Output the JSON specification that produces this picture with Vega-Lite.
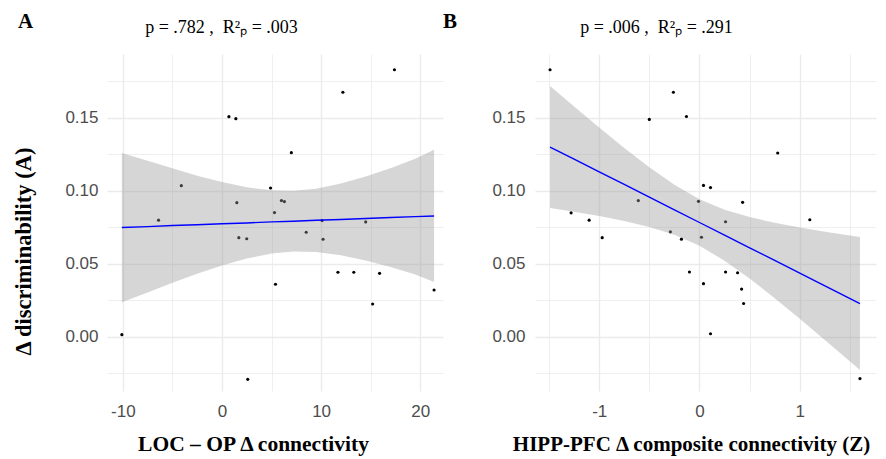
{
  "$schema": "https://vega.github.io/schema/vega-lite/v6.json",
  "background": "white",
  "padding": {"left": 12, "top": 11, "right": 5, "bottom": 5},
  "bounds": "flush",
  "spacing": 92,
  "datasets": {
    "left": [
      {"loc": 17.4, "dA": 0.183}, {"loc": 12.2, "dA": 0.1676}, {"loc": 0.7, "dA": 0.1509}, {"loc": 1.4, "dA": 0.1495},
      {"loc": 7.0, "dA": 0.1262}, {"loc": -4.1, "dA": 0.1036}, {"loc": 4.9, "dA": 0.102}, {"loc": 1.5, "dA": 0.092},
      {"loc": 6.0, "dA": 0.0934}, {"loc": 6.3, "dA": 0.0927}, {"loc": 5.3, "dA": 0.0852}, {"loc": -6.4, "dA": 0.080},
      {"loc": 10.1, "dA": 0.0797}, {"loc": 14.5, "dA": 0.0788}, {"loc": 8.5, "dA": 0.0717}, {"loc": 1.7, "dA": 0.068},
      {"loc": 2.5, "dA": 0.0673}, {"loc": 10.2, "dA": 0.0669}, {"loc": 5.4, "dA": 0.0361}, {"loc": 11.7, "dA": 0.0443},
      {"loc": 13.3, "dA": 0.0443}, {"loc": 15.9, "dA": 0.0436}, {"loc": 15.2, "dA": 0.0226}, {"loc": 21.4, "dA": 0.0322},
      {"loc": -10.1, "dA": 0.0016}, {"loc": 2.6, "dA": -0.029}
    ],
    "right": [
      {"hipp": -1.49, "dA": 0.183}, {"hipp": -0.26, "dA": 0.1676}, {"hipp": -0.5, "dA": 0.149}, {"hipp": -0.13, "dA": 0.151},
      {"hipp": 0.78, "dA": 0.126}, {"hipp": 0.04, "dA": 0.1038}, {"hipp": 0.11, "dA": 0.1023}, {"hipp": -0.01, "dA": 0.0929},
      {"hipp": 0.43, "dA": 0.0922}, {"hipp": -0.61, "dA": 0.0934}, {"hipp": -1.28, "dA": 0.085}, {"hipp": -1.1, "dA": 0.080},
      {"hipp": 0.26, "dA": 0.0789}, {"hipp": 1.1, "dA": 0.0803}, {"hipp": -0.29, "dA": 0.072}, {"hipp": -0.97, "dA": 0.068},
      {"hipp": -0.18, "dA": 0.067}, {"hipp": 0.02, "dA": 0.0683}, {"hipp": -0.1, "dA": 0.0445}, {"hipp": 0.26, "dA": 0.0445},
      {"hipp": 0.38, "dA": 0.044}, {"hipp": 0.04, "dA": 0.0365}, {"hipp": 0.42, "dA": 0.0328}, {"hipp": 0.44, "dA": 0.0229},
      {"hipp": 0.11, "dA": 0.0022}, {"hipp": 1.6, "dA": -0.0285}
    ],
    "bandL": [
      {"x": -10.1, "lo": 0.0238, "hi": 0.1260, "fit": 0.0750},
      {"x": -7.5, "lo": 0.0305, "hi": 0.1207, "fit": 0.0756},
      {"x": -5, "lo": 0.0371, "hi": 0.1155, "fit": 0.0763},
      {"x": -2.5, "lo": 0.0433, "hi": 0.1105, "fit": 0.0769},
      {"x": 0, "lo": 0.0489, "hi": 0.1061, "fit": 0.0775},
      {"x": 2.5, "lo": 0.0537, "hi": 0.1025, "fit": 0.0781},
      {"x": 5, "lo": 0.0571, "hi": 0.1005, "fit": 0.0788},
      {"x": 7.2, "lo": 0.0585, "hi": 0.1001, "fit": 0.0793},
      {"x": 9.5, "lo": 0.0582, "hi": 0.1016, "fit": 0.0799},
      {"x": 12, "lo": 0.0559, "hi": 0.1051, "fit": 0.0805},
      {"x": 14.5, "lo": 0.0523, "hi": 0.1099, "fit": 0.0811},
      {"x": 17, "lo": 0.0480, "hi": 0.1156, "fit": 0.0818},
      {"x": 19.5, "lo": 0.0428, "hi": 0.1220, "fit": 0.0824},
      {"x": 21.4, "lo": 0.0376, "hi": 0.1282, "fit": 0.0829}
    ],
    "bandR": [
      {"x": -1.49, "lo": 0.0883, "hi": 0.1719, "fit": 0.1301},
      {"x": -1.25, "lo": 0.0857, "hi": 0.1579, "fit": 0.1218},
      {"x": -1.0, "lo": 0.0828, "hi": 0.1434, "fit": 0.1131},
      {"x": -0.75, "lo": 0.0795, "hi": 0.1295, "fit": 0.1045},
      {"x": -0.5, "lo": 0.0754, "hi": 0.1162, "fit": 0.0958},
      {"x": -0.25, "lo": 0.0700, "hi": 0.1042, "fit": 0.0871},
      {"x": 0, "lo": 0.0624, "hi": 0.0944, "fit": 0.0784},
      {"x": 0.25, "lo": 0.0522, "hi": 0.0872, "fit": 0.0697},
      {"x": 0.5, "lo": 0.0401, "hi": 0.0821, "fit": 0.0611},
      {"x": 0.75, "lo": 0.0266, "hi": 0.0782, "fit": 0.0524},
      {"x": 1.0, "lo": 0.0125, "hi": 0.0749, "fit": 0.0437},
      {"x": 1.3, "lo": -0.0049, "hi": 0.0715, "fit": 0.0333},
      {"x": 1.6, "lo": -0.0226, "hi": 0.0684, "fit": 0.0229}
    ]
  },
  "config": {
    "view": {"stroke": null},
    "axis": {
      "domain": false,
      "ticks": false,
      "gridColor": "#ebebeb",
      "labelFont": "Liberation Sans",
      "labelColor": "#4d4d4d",
      "labelFontSize": 17,
      "titleFont": "Liberation Serif",
      "titleFontWeight": "bold",
      "titleFontSize": 21.5,
      "titleColor": "black"
    },
    "title": {"font": "Liberation Serif", "fontSize": 21, "fontWeight": "bold", "color": "black"}
  },
  "hconcat": [
    {
      "width": 336,
      "height": 337,
      "title": {"text": "A", "anchor": "start", "frame": "group", "dx": -89, "offset": -14},
      "resolve": {"axis": {"x": "independent"}},
      "layer": [
        {
          "data": {"name": "left"},
          "mark": {"type": "point", "filled": true, "size": 10, "color": "black", "opacity": 1},
          "encoding": {
            "x": {
              "field": "loc", "type": "quantitative",
              "scale": {"domain": [-11.6, 22.3], "nice": false, "zero": false},
              "axis": {
                "values": [-10, -5, 0, 5, 10, 15, 20],
                "labelExpr": "datum.value % 10 == 0 ? '' + datum.value : ''",
                "gridWidth": {"condition": {"test": "datum.value % 10 == 0", "value": 1.4}, "value": 0.8},
                "labelPadding": 12,
                "title": "LOC – OP Δ connectivity",
                "titleX": 146, "titleAlign": "center", "titleBaseline": "alphabetic", "titleY": 59
              }
            },
            "y": {
              "field": "dA", "type": "quantitative",
              "scale": {"domain": [-0.037, 0.1938], "nice": false, "zero": false},
              "axis": {
                "values": [-0.025, 0, 0.025, 0.05, 0.075, 0.1, 0.125, 0.15, 0.175],
                "labelExpr": "abs(datum.value/0.05 - round(datum.value/0.05)) < 0.001 ? format(datum.value, '.2f') : ''",
                "gridWidth": {"condition": {"test": "abs(datum.value/0.05 - round(datum.value/0.05)) < 0.001", "value": 1.4}, "value": 0.8},
                "labelPadding": 9,
                "title": "Δ discriminability (A)",
                "titleFontSize": 22.5,
                "titleX": -77, "titleY": 197, "titleAlign": "center", "titleBaseline": "alphabetic", "titleAngle": 270
              }
            }
          }
        },
        {
          "data": {"name": "bandL"},
          "mark": {"type": "area", "color": "#999999", "opacity": 0.4},
          "encoding": {
            "x": {"field": "x", "type": "quantitative", "axis": null},
            "y": {"field": "lo", "type": "quantitative"},
            "y2": {"field": "hi"}
          }
        },
        {
          "data": {"name": "bandL"},
          "mark": {"type": "line", "color": "#0000ff", "strokeWidth": 1.4},
          "encoding": {
            "x": {"field": "x", "type": "quantitative",
              "axis": {"orient": "top", "labels": false, "grid": false,
                "title": "p = .782 ,\u00a0\u00a0R²ₚ = .003", "titleFontWeight": "normal", "titleFontSize": 18,
                "titleX": 114, "titleY": -22, "titleAlign": "center", "titleBaseline": "alphabetic"}},
            "y": {"field": "fit", "type": "quantitative"}
          }
        }
      ]
    },
    {
      "width": 341,
      "height": 337,
      "title": {"text": "B", "anchor": "start", "frame": "group", "dx": -92, "offset": -14},
      "resolve": {"axis": {"x": "independent"}},
      "layer": [
        {
          "data": {"name": "right"},
          "mark": {"type": "point", "filled": true, "size": 10, "color": "black", "opacity": 1},
          "encoding": {
            "x": {
              "field": "hipp", "type": "quantitative",
              "scale": {"domain": [-1.64, 1.76], "nice": false, "zero": false},
              "axis": {
                "values": [-1.5, -1, -0.5, 0, 0.5, 1, 1.5],
                "labelExpr": "datum.value % 1 == 0 ? '' + datum.value : ''",
                "gridWidth": {"condition": {"test": "datum.value % 1 == 0", "value": 1.4}, "value": 0.8},
                "labelPadding": 12,
                "title": "HIPP-PFC Δ composite connectivity (Z)",
                "titleFontSize": 21,
                "titleX": 156, "titleAlign": "center", "titleBaseline": "alphabetic", "titleY": 59
              }
            },
            "y": {
              "field": "dA", "type": "quantitative",
              "scale": {"domain": [-0.037, 0.1938], "nice": false, "zero": false},
              "axis": {
                "values": [-0.025, 0, 0.025, 0.05, 0.075, 0.1, 0.125, 0.15, 0.175],
                "labelExpr": "abs(datum.value/0.05 - round(datum.value/0.05)) < 0.001 ? format(datum.value, '.2f') : ''",
                "gridWidth": {"condition": {"test": "abs(datum.value/0.05 - round(datum.value/0.05)) < 0.001", "value": 1.4}, "value": 0.8},
                "labelPadding": 10,
                "title": null
              }
            }
          }
        },
        {
          "data": {"name": "bandR"},
          "mark": {"type": "area", "color": "#999999", "opacity": 0.4},
          "encoding": {
            "x": {"field": "x", "type": "quantitative", "axis": null},
            "y": {"field": "lo", "type": "quantitative"},
            "y2": {"field": "hi"}
          }
        },
        {
          "data": {"name": "bandR"},
          "mark": {"type": "line", "color": "#0000ff", "strokeWidth": 1.4},
          "encoding": {
            "x": {"field": "x", "type": "quantitative",
              "axis": {"orient": "top", "labels": false, "grid": false,
                "title": "p = .006 ,\u00a0\u00a0R²ₚ = .291", "titleFontWeight": "normal", "titleFontSize": 18,
                "titleX": 121, "titleY": -22, "titleAlign": "center", "titleBaseline": "alphabetic"}},
            "y": {"field": "fit", "type": "quantitative"}
          }
        }
      ]
    }
  ]
}
